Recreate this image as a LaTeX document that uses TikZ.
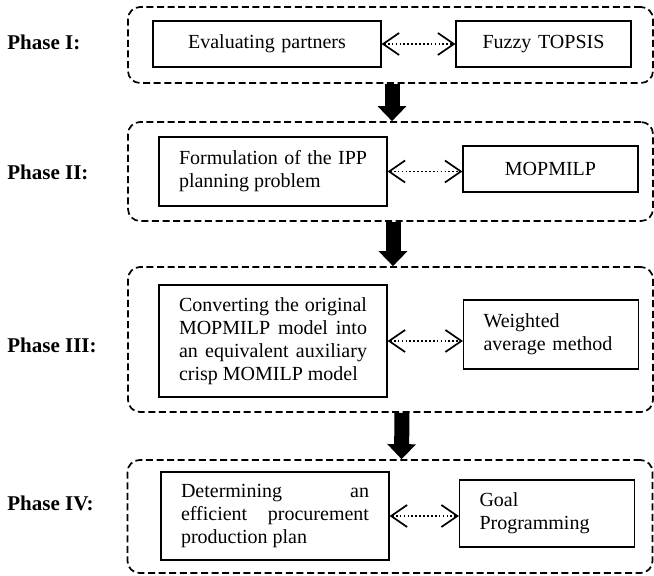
\documentclass[tikz,border=0pt]{standalone}
\usepackage{fontspec}
\setmainfont{Liberation Serif}
\usetikzlibrary{arrows.meta}
\hyphenpenalty=10000
\tolerance=10000
\begin{document}
\begin{tikzpicture}[x=0.5pt,y=-0.5pt,
    font=\fontsize{10}{11.5}\selectfont,
    phasebox/.style={draw,line width=0.85pt,dash pattern=on 3.5pt off 1.8pt,
        rounded corners=6pt,minimum width=262.5pt},
    taskbox/.style={draw,line width=0.6pt,inner xsep=10pt,text width=94pt,align=justify},
    methodbox/.style={draw,line width=0.6pt,inner xsep=10pt,text width=67.5pt},
    phaselabel/.style={anchor=west,inner sep=0pt,font=\fontsize{10.5}{12}\selectfont\bfseries},
    link/.style={{Straight Barb[length=8pt,width=11pt]}-{Straight Barb[length=8pt,width=11pt]},
        line width=0.85pt,dash pattern=on 0.85pt off 1.1pt},
    flow/.style={-{Triangle[length=7.5pt,width=14pt]},line width=7.5pt}
]
    \useasboundingbox (0,0) rectangle (654,576);

    % the four phases
    \node[phasebox,minimum height=38pt] (phaseI) at (390.5,45) {};
    \node[phasebox,minimum height=49.5pt] (phaseII) at (390.5,171.5) {};
    \node[phasebox,minimum height=72.5pt] (phaseIII) at (390.5,339.5) {};
    \node[phasebox,minimum height=56.5pt] (phaseIV) at (390,516.5) {};

    \node[phaselabel] (labelI) at (7,42) {Phase I:};
    \node[phaselabel] (labelII) at (7,172) {Phase II:};
    \node[phaselabel] (labelIII) at (7,345) {Phase III:};
    \node[phaselabel] (labelIV) at (7,503) {Phase IV:};

    % tasks and methods
    \node[taskbox,align=center,minimum height=23pt] (evaluating) at (267,44) {Evaluating partners};
    \node[methodbox,align=center,minimum height=23pt] (fuzzy) at (543.5,44) {Fuzzy TOPSIS};
    \node[taskbox,minimum height=34.5pt] (formulation) at (273,171.5)
        {Formulation of the IPP planning problem};
    \node[methodbox,align=center,minimum height=23pt] (mopmilp) at (550.5,169) {MOPMILP};
    \node[taskbox,minimum height=56pt] (converting) at (273,341)
        {Converting the original MOPMILP model into an equivalent auxiliary crisp MOMILP model};
    \node[methodbox,align=left,minimum height=34.5pt] (weighted) at (551,334.5) {Weighted\\average method};
    \node[taskbox,minimum height=44pt] (determining) at (275,516)
        {Determining an efficient procurement production plan};
    \node[methodbox,align=left,minimum height=33.5pt] (goal) at (547,513.5) {Goal\\Programming};

    \draw[link] (evaluating.east) -- (evaluating.east -| fuzzy.west);
    \draw[link] (formulation.east) -- (formulation.east -| mopmilp.west);
    \draw[link] (converting.east) -- (converting.east -| weighted.west);
    \draw[link] (determining.east) -- (determining.east -| goal.west);

    \draw[flow] ([xshift=0.75pt]phaseI.south) -- ([xshift=0.75pt]phaseII.north);
    \draw[flow] ([xshift=1.25pt]phaseII.south) -- ([xshift=1.25pt]phaseIII.north);
    \draw[flow] ([xshift=5.75pt]phaseIII.south) -- ([xshift=5.75pt]phaseIV.north);
\end{tikzpicture}
\end{document}
